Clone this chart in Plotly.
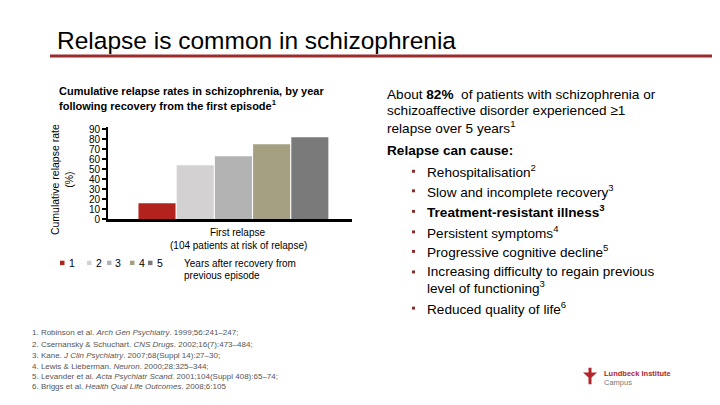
import plotly.graph_objects as go

years = ["1", "2", "3", "4", "5"]
relapse_rates = [16, 54, 63, 75, 82]
bar_colors = ["#B3221C", "#D3D1D2", "#B3B3B3", "#A4A081", "#7A7A7A"]
category = ["First relapse"]
category_note = "(104 patients at risk of relapse)"
y_ticks = [0, 10, 20, 30, 40, 50, 60, 70, 80, 90]

intro_lines = [
    "About <b>82%</b>  of patients with schizophrenia or",
    "schizoaffective disorder experienced ≥1",
    "relapse over 5 years<sup>1</sup>",
]
intro_y = [93, 110, 127]

bullets = [
    ["Rehospitalisation<sup>2</sup>"],
    ["Slow and incomplete recovery<sup>3</sup>"],
    ["<b>Treatment-resistant illness<sup>3</sup></b>"],
    ["Persistent symptoms<sup>4</sup>"],
    ["Progressive cognitive decline<sup>5</sup>"],
    ["Increasing difficulty to regain previous", "level of functioning<sup>3</sup>"],
    ["Reduced quality of life<sup>6</sup>"],
]
bullet_y = [172, 192, 213, 234, 254, 275, 312]

refs = [
    "1. Robinson et al. <i>Arch Gen Psychiatry</i>. 1999;56:241–247;",
    "2. Csernansky & Schuchart. <i>CNS Drugs</i>. 2002;16(7):473–484;",
    "3. Kane. <i>J Clin Psychiatry</i>. 2007;68(Suppl 14):27–30;",
    "4. Lewis & Lieberman. <i>Neuron</i>. 2000;28:325–344;",
    "5. Levander et al. <i>Acta Psychiatr Scand</i>. 2001;104(Suppl 408):65–74;",
    "6. Briggs et al. <i>Health Qual Life Outcomes</i>. 2008;6:105",
]
ref_y = [337, 349, 361, 372, 382, 392]

OFF = 8  # page body margin
W, H = 720 - OFF, 405 - OFF
def px(x):
    return (x - OFF) / W
def py(y):
    return 1 - (y - OFF) / H

FONT = "Liberation Sans, Arial, sans-serif"
BLACK = "#000000"

fig = go.Figure()
for yr, val, col in zip(years, relapse_rates, bar_colors):
    fig.add_trace(go.Bar(x=category, y=[val], name=yr, marker=dict(color=col, line=dict(width=0)),
                         showlegend=False))

ann = []
shapes = []

def text(x, y, t, size, color=BLACK, anchor="left", **kw):
    ann.append(dict(x=px(x), y=py(y), xref="paper", yref="paper", xanchor=anchor, yanchor="middle",
                    text=t, showarrow=False, align="left",
                    font=dict(family=FONT, size=size, color=color), **kw))

# Title
text(55, 38, "Relapse is common in schizophrenia", 24.5)
shapes.append(dict(type="line", xref="paper", yref="paper", x0=px(50), x1=1.0, y0=py(54), y1=py(54),
                   line=dict(color="#9B2C2C", width=3)))

# Subtitle
text(57, 90, "<b>Cumulative relapse rates in schizophrenia, by year</b>", 11)
text(57, 104, "<b>following recovery from the first episode<sup>1</sup></b>", 11)

# Y-axis title
ann.append(dict(x=px(62), y=py(181), xref="paper", yref="paper", xanchor="center", yanchor="middle",
                text="Cumulative relapse rate<br>(%)", showarrow=False, textangle=-90,
                font=dict(family=FONT, size=10.5, color=BLACK)))

# Category label under the axis
text(237, 235, category[0], 10, anchor="center")
text(238, 248, category_note, 10, anchor="center")

# Legend (manual)
leg_sq_x = [60, 87, 107, 130, 148]
for i, (yr, col) in enumerate(zip(years, bar_colors)):
    x0 = leg_sq_x[i]
    shapes.append(dict(type="rect", xref="paper", yref="paper", x0=px(x0), x1=px(x0 + 4.5),
                       y0=py(268), y1=py(263.5), fillcolor=col, line=dict(width=0)))
    text(x0 + 6.5, 266, yr, 10.5)
text(182, 266, "Years after recovery from", 10)
text(182, 279, "previous episode", 10)

# Right text
for t, yy in zip(intro_lines, intro_y):
    text(385, yy, t, 13.6)
text(385, 151, "<b>Relapse can cause:</b>", 13.6)
for lines, yy in zip(bullets, bullet_y):
    shapes.append(dict(type="rect", xref="paper", yref="paper", x0=px(412), x1=px(415),
                       y0=py(yy + 1.5), y1=py(yy - 1.5), fillcolor="#8B2A2A", line=dict(width=0)))
    for j, ln in enumerate(lines):
        text(425, yy + 15.5 * j, ln, 13.6)

# References
for r, yy in zip(refs, ref_y):
    text(30, yy, r, 8, color="#555555")

# Logo
text(602, 379, "<b>Lundbeck Institute</b>", 7.5, color="#B0262A")
text(602, 388, "Campus", 7.5, color="#777777")
shapes.append(dict(type="path", xref="paper", yref="paper",
                   path=f"M {px(588.5)} {py(373)} L {px(591.5)} {py(373)} L {px(591.5)} {py(378)} L {px(597)} {py(378)} "
                        f"L {px(591.5)} {py(383)} L {px(591.5)} {py(390)} L {px(588.5)} {py(390)} L {px(588.5)} {py(383)} "
                        f"L {px(583)} {py(378)} L {px(588.5)} {py(378)} Z",
                   fillcolor="#B0262A", line=dict(width=0)))

fig.update_layout(
    width=W, height=H, margin=dict(l=0, r=0, t=0, b=0),
    paper_bgcolor="white", plot_bgcolor="white",
    barmode="group", bargap=0.217, bargroupgap=0.03,
    font=dict(family=FONT, color=BLACK),
    xaxis=dict(domain=[px(108), px(352)], range=[-0.514, 0.486], showline=True, linecolor=BLACK,
               linewidth=2.5, ticks="", showticklabels=False, showgrid=False, zeroline=False),
    yaxis=dict(domain=[py(221), py(127)], range=[0, 92], tickvals=y_ticks, showline=True,
               linecolor=BLACK, linewidth=2, ticks="outside", ticklen=4, tickwidth=1.5,
               tickcolor=BLACK, showgrid=False, zeroline=False,
               tickfont=dict(family=FONT, size=10, color=BLACK)),
    annotations=ann, shapes=shapes,
)

fig.write_html("out.html")
